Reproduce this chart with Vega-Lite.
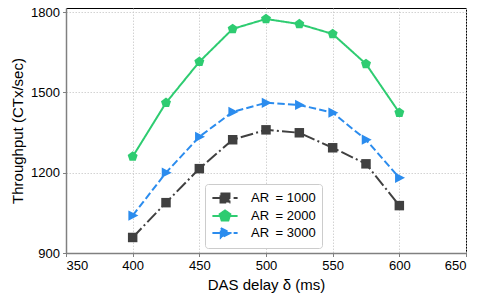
{
  "$schema": "https://vega.github.io/schema/vega-lite/v6.json",
  "width": 400,
  "height": 245,
  "autosize": {"type": "none"},
  "padding": {"left": 66, "top": 8, "right": 19, "bottom": 50},
  "background": "white",
  "config": {
    "font": "Liberation Sans",
    "view": {"stroke": "#000000", "strokeWidth": 1},
    "axis": {
      "domainColor": "#808080", "domainWidth": 1.5,
      "tickColor": "#808080", "tickSize": 3.5, "tickWidth": 1,
      "labelFontSize": 13, "labelColor": "#000000", "labelPadding": 3,
      "titleFontSize": 15, "titleFontWeight": "normal", "titleColor": "#000000",
      "gridColor": "#c8c8c8", "gridDash": [1.5, 1.5], "gridWidth": 0.8
    },
    "legend": {
      "orient": "none", "legendX": 139, "legendY": 176,
      "fillColor": "white", "strokeColor": "#cccccc", "cornerRadius": 3,
      "padding": 6, "labelFontSize": 13, "labelColor": "#000000",
      "symbolSize": 196, "symbolStrokeWidth": 2, "rowPadding": -1,
      "symbolOffset": 6, "labelOffset": 18
    }
  },
  "datasets": {
    "d": [
      {"x": 400, "y": 958, "s": "AR\u2002= 1000"},
      {"x": 425, "y": 1088, "s": "AR\u2002= 1000"},
      {"x": 450, "y": 1215, "s": "AR\u2002= 1000"},
      {"x": 475, "y": 1323, "s": "AR\u2002= 1000"},
      {"x": 500, "y": 1360, "s": "AR\u2002= 1000"},
      {"x": 525, "y": 1349, "s": "AR\u2002= 1000"},
      {"x": 550, "y": 1293, "s": "AR\u2002= 1000"},
      {"x": 575, "y": 1233, "s": "AR\u2002= 1000"},
      {"x": 600, "y": 1077, "s": "AR\u2002= 1000"},
      {"x": 400, "y": 1260, "s": "AR\u2002= 2000"},
      {"x": 425, "y": 1461, "s": "AR\u2002= 2000"},
      {"x": 450, "y": 1614, "s": "AR\u2002= 2000"},
      {"x": 475, "y": 1737, "s": "AR\u2002= 2000"},
      {"x": 500, "y": 1774, "s": "AR\u2002= 2000"},
      {"x": 525, "y": 1755, "s": "AR\u2002= 2000"},
      {"x": 550, "y": 1718, "s": "AR\u2002= 2000"},
      {"x": 575, "y": 1606, "s": "AR\u2002= 2000"},
      {"x": 600, "y": 1424, "s": "AR\u2002= 2000"},
      {"x": 400, "y": 1040, "s": "AR\u2002= 3000"},
      {"x": 425, "y": 1200, "s": "AR\u2002= 3000"},
      {"x": 450, "y": 1334, "s": "AR\u2002= 3000"},
      {"x": 475, "y": 1427, "s": "AR\u2002= 3000"},
      {"x": 500, "y": 1461, "s": "AR\u2002= 3000"},
      {"x": 525, "y": 1453, "s": "AR\u2002= 3000"},
      {"x": 550, "y": 1424, "s": "AR\u2002= 3000"},
      {"x": 575, "y": 1323, "s": "AR\u2002= 3000"},
      {"x": 600, "y": 1181, "s": "AR\u2002= 3000"}
    ]
  },
  "data": {"name": "d"},
  "encoding": {
    "x": {"field": "x", "type": "quantitative",
      "scale": {"domain": [350, 650], "nice": false, "zero": false},
      "axis": {"values": [350, 400, 450, 500, 550, 600, 650], "format": "d", "title": "DAS delay δ (ms)", "titlePadding": 5}},
    "y": {"field": "y", "type": "quantitative",
      "scale": {"domain": [900, 1815], "nice": false, "zero": false},
      "axis": {"values": [900, 1200, 1500, 1800], "format": "d", "title": "Throughput (CTx/sec)", "titlePadding": 5}}
  },
  "layer": [
    {
      "mark": {"type": "line", "strokeWidth": 2},
      "encoding": {
        "color": {"field": "s", "type": "nominal", "legend": null,
          "scale": {"domain": ["AR\u2002= 1000", "AR\u2002= 2000", "AR\u2002= 3000"], "range": ["#404040", "#2ecc71", "#2b8cee"]}},
        "strokeDash": {"field": "s", "type": "nominal", "legend": null,
          "scale": {"domain": ["AR\u2002= 1000", "AR\u2002= 2000", "AR\u2002= 3000"], "range": [[12.8, 3.2, 2, 3.2], [1, 0], [7.4, 3.2]]}}
      }
    },
    {
      "mark": {"type": "point", "filled": true, "opacity": 1, "strokeWidth": 0},
      "encoding": {
        "color": {"field": "s", "type": "nominal", "legend": null,
          "scale": {"domain": ["AR\u2002= 1000", "AR\u2002= 2000", "AR\u2002= 3000"], "range": ["#404040", "#2ecc71", "#2b8cee"]}},
        "shape": {"field": "s", "type": "nominal", "legend": null,
          "scale": {"domain": ["AR\u2002= 1000", "AR\u2002= 2000", "AR\u2002= 3000"],
            "range": ["M-1,-1H1V1H-1Z", "M0,-1L0.951,-0.309L0.588,0.809L-0.588,0.809L-0.951,-0.309Z", "M-0.75,-0.9L1,0L-0.75,0.9Z"]}},
        "size": {"field": "s", "type": "nominal", "legend": null,
          "scale": {"domain": ["AR\u2002= 1000", "AR\u2002= 2000", "AR\u2002= 3000"], "range": [90, 130, 120]}}
      }
    },
    {
      "transform": [{"filter": "datum.x > 100000"}],
      "mark": {"type": "point", "filled": true, "opacity": 1, "strokeWidth": 2},
      "encoding": {
        "fill": {"field": "s", "type": "nominal",
          "scale": {"domain": ["AR\u2002= 1000", "AR\u2002= 2000", "AR\u2002= 3000"], "range": ["#404040", "#2ecc71", "#2b8cee"]},
          "legend": {"title": null}},
        "stroke": {"field": "s", "type": "nominal",
          "scale": {"domain": ["AR\u2002= 1000", "AR\u2002= 2000", "AR\u2002= 3000"], "range": ["#404040", "#2ecc71", "#2b8cee"]},
          "legend": {"title": null}},
        "shape": {"field": "s", "type": "nominal",
          "scale": {"domain": ["AR\u2002= 1000", "AR\u2002= 2000", "AR\u2002= 3000"],
            "range": ["M-1.8,0H1.8M-0.64,-0.64H0.64V0.64H-0.64Z", "M-1.8,0H1.8M0,-0.8L0.76,-0.25L0.47,0.65L-0.47,0.65L-0.76,-0.25Z", "M-1.8,0H1.8M-0.6,-0.7L0.75,0L-0.6,0.7Z"]},
          "legend": {"title": null}},
        "strokeDash": {"field": "s", "type": "nominal",
          "scale": {"domain": ["AR\u2002= 1000", "AR\u2002= 2000", "AR\u2002= 3000"], "range": [[12.8, 3.2, 2, 3.2], [1, 0], [7.4, 3.2]]},
          "legend": {"title": null}}
      }
    }
  ],
  "resolve": {"scale": {"color": "independent", "shape": "independent", "strokeDash": "independent", "size": "independent", "fill": "independent", "stroke": "independent"}}
}
